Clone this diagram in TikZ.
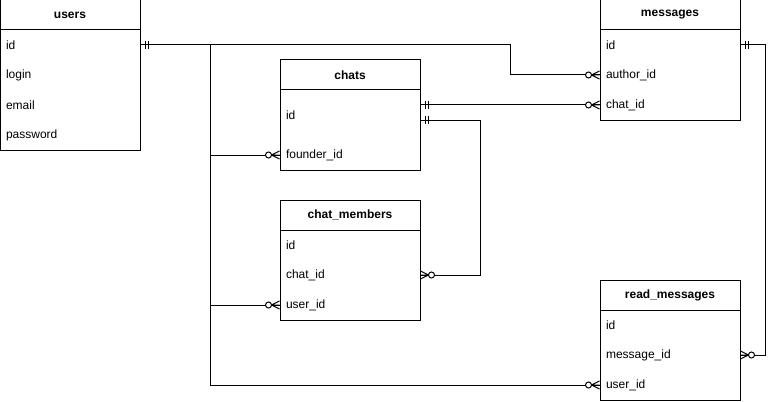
\documentclass[tikz,border=0pt]{standalone}
\usepackage{fontspec}
\setmainfont{Liberation Sans}
\begin{document}
\begin{tikzpicture}[x=1pt,y=-1pt,line width=1pt,
  tbl/.style={draw,line width=1pt},
  hdr/.style={draw,minimum width=140pt,minimum height=30pt,inner sep=0pt,font=\fontsize{12}{14}\selectfont\bfseries},
  rowtxt/.style={minimum width=140pt,minimum height=30pt,text width=128pt,align=left,inner xsep=6pt,inner ysep=0pt,font=\fontsize{12}{14}\selectfont},
  pics/mandone/.style={code={\draw[line width=1pt] (5,-4) -- (5,4) (8,-4) -- (8,4);}},
  pics/zmany/.style={code={\draw[line width=1pt] (0,4) -- (8,0) -- (0,-4) (0,0) -- (8,0); \draw[line width=1pt,fill=white] (11,0) circle[radius=3pt];}}
]
\useasboundingbox (0,0) rectangle (775,401);

% users
\draw[tbl] (0,0) rectangle (140,150);
\node[hdr] (users) at (70,15) {users};
\node[rowtxt] (users-id) at (70,45) {id};
\node[rowtxt] (users-login) at (70,75) {login};
\node[rowtxt] (users-email) at (70,105) {email};
\node[rowtxt] (users-pw) at (70,135) {password};

% messages
\draw[tbl] (600,0) rectangle (740,120);
\node[hdr] (msg) at (670,15) {messages};
\node[rowtxt] (msg-id) at (670,45) {id};
\node[rowtxt] (msg-author) at (670,75) {author\_id};
\node[rowtxt] (msg-chat) at (670,105) {chat\_id};

% chats
\draw[tbl] (280,60) rectangle (420,170);
\node[hdr] (chats) at (350,75) {chats};
\node[rowtxt] (chats-id) at (350,115) {id};
\node[rowtxt] (chats-founder) at (350,155) {founder\_id};
\coordinate (chats-r1) at (420,105);
\coordinate (chats-r2) at (420,120);

% chat_members
\draw[tbl] (280,200) rectangle (420,320);
\node[hdr] (cm) at (350,215) {chat\_members};
\node[rowtxt] (cm-id) at (350,245) {id};
\node[rowtxt] (cm-chat) at (350,275) {chat\_id};
\node[rowtxt] (cm-user) at (350,305) {user\_id};

% read_messages
\draw[tbl] (600,280) rectangle (740,400);
\node[hdr] (rm) at (670,295) {read\_messages};
\node[rowtxt] (rm-id) at (670,325) {id};
\node[rowtxt] (rm-msg) at (670,355) {message\_id};
\node[rowtxt] (rm-user) at (670,385) {user\_id};

% helper coordinates
\coordinate (bus) at (210,45);
\coordinate (bendA) at (510,0);
\coordinate (bendB) at (480,0);
\coordinate (bendC) at (765,0);

% connectors
\draw (users-id.east) -- (users-id.east -| bendA) |- (msg-author.west);
\draw (bus) |- (rm-user.west);
\draw (bus |- chats-founder.west) -- (chats-founder.west);
\draw (bus |- cm-user.west) -- (cm-user.west);
\draw (chats-r1) -- (msg-chat.west);
\draw (chats-r2) -- (chats-r2 -| bendB) |- (cm-chat.east);
\draw (msg-id.east) -- (msg-id.east -| bendC) |- (rm-msg.east);

% end markers
\pic at (users-id.east) {mandone};
\pic at (chats-r1) {mandone};
\pic at (chats-r2) {mandone};
\pic at (msg-id.east) {mandone};
\pic[rotate=180] at (msg-author.west) {zmany};
\pic[rotate=180] at (msg-chat.west) {zmany};
\pic[rotate=180] at (chats-founder.west) {zmany};
\pic[rotate=180] at (cm-user.west) {zmany};
\pic[rotate=180] at (rm-user.west) {zmany};
\pic at (cm-chat.east) {zmany};
\pic at (rm-msg.east) {zmany};
\end{tikzpicture}
\end{document}
